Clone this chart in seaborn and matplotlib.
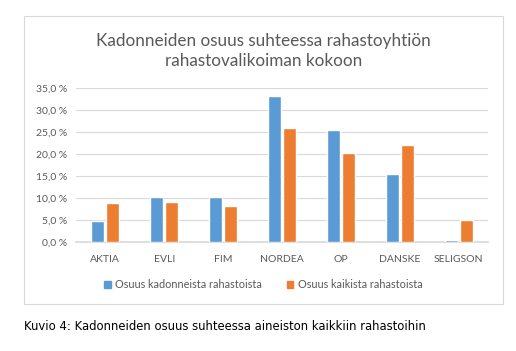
import pandas as pd
import matplotlib.pyplot as plt
import seaborn as sns
from matplotlib.patches import Rectangle
from matplotlib.ticker import FuncFormatter

# Data
companies = ["AKTIA", "EVLI", "FIM", "NORDEA", "OP", "DANSKE", "SELIGSON"]
lost_share = [4.7, 10.3, 10.3, 33.2, 25.4, 15.5, 0.5]
all_share = [8.9, 9.2, 8.3, 26.0, 20.2, 22.1, 5.1]
series_names = ["Osuus kadonneista rahastoista", "Osuus kaikista rahastoista"]

excel_colors = ["#5B9BD5", "#ED7D31"]
text_grey = "#595959"

df = pd.DataFrame({"company": companies, series_names[0]: lost_share, series_names[1]: all_share})
melted = df.melt(id_vars=["company"], var_name="series", value_name="share")

sns.set_theme(style="white")
plt.rcParams["font.family"] = ["Lato", "DejaVu Sans"]

fig = plt.figure(figsize=(5.16, 3.51), dpi=100)
ax = fig.add_axes([0.147, 0.310, 0.799, 0.439])

# chart frame
fig.patches.append(Rectangle((24 / 516, 1 - 304 / 351), 479 / 516, 288 / 351,
                             transform=fig.transFigure, fill=False,
                             edgecolor="#D9D9D9", linewidth=0.8))

sns.barplot(data=melted, x="company", y="share", hue="series",
            palette=excel_colors, saturation=1, width=0.52, gap=0.15,
            ax=ax, legend=False, zorder=3)

ax.set_ylim(0, 35)
ax.set_yticks(range(0, 36, 5))
ax.yaxis.set_major_formatter(FuncFormatter(lambda v, _: f"{v:.1f}".replace(".", ",") + " %"))
ax.grid(axis="y", color="#D9D9D9", linewidth=0.8)
ax.set_axisbelow(True)
for side in ["top", "right", "left"]:
    ax.spines[side].set_visible(False)
ax.spines["bottom"].set_color("#D9D9D9")
ax.spines["bottom"].set_zorder(1)
ax.tick_params(axis="both", length=0, labelsize=7.5, colors=text_grey, pad=6)
ax.tick_params(axis="x", pad=9)
ax.set_xlabel("")
ax.set_ylabel("")

fig.text(0.51, 0.855, "Kadonneiden osuus suhteessa rahastoyhtiön\nrahastovalikoiman kokoon",
         ha="center", va="center", fontsize=12.3, color=text_grey, linespacing=1.25)

handles = [Rectangle((0, 0), 1, 1, color=c) for c in excel_colors]
fig.legend(handles, series_names, loc="center", bbox_to_anchor=(0.51, 1 - 285 / 351),
           ncol=2, frameon=False, fontsize=7.8, labelcolor=text_grey,
           handlelength=0.6, handleheight=0.6, handletextpad=0.4, columnspacing=2.3)

fig.text(24 / 516, 1 - 327 / 351, "Kuvio 4: Kadonneiden osuus suhteessa aineiston kaikkiin rahastoihin",
         ha="left", va="center", fontsize=8.4, color="black", family="DejaVu Sans")

fig.savefig("out.png", dpi=100)
